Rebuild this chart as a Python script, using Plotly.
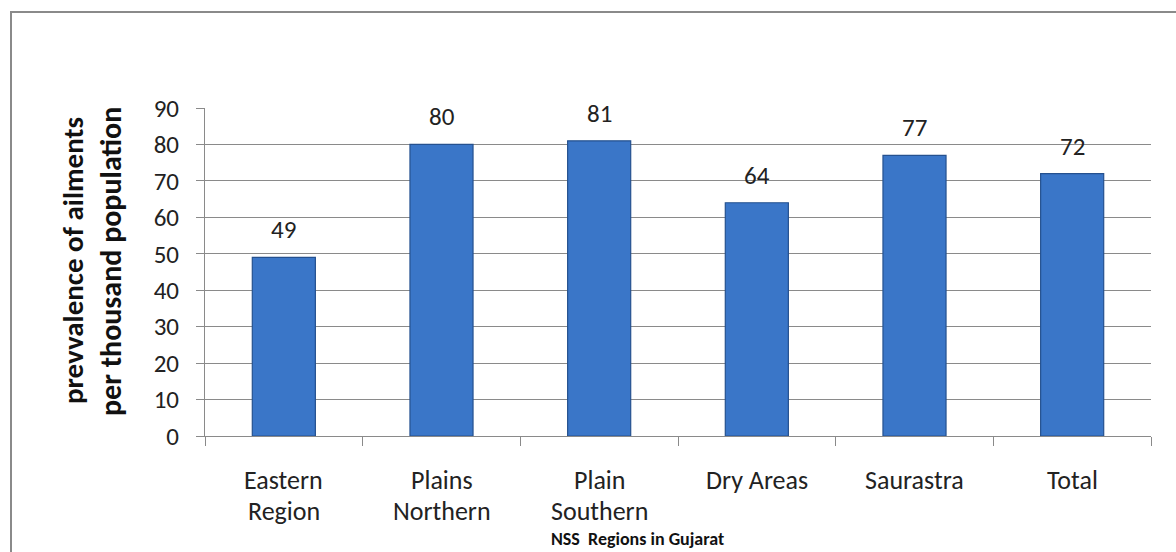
import plotly.graph_objects as go

categories = ["Eastern Region", "Plains Northern", "Plain Southern", "Dry Areas", "Saurastra", "Total"]
label_line1 = ["Eastern", "Plains", "Plain", "Dry Areas", "Saurastra", "Total"]
label_line2 = ["Region", "Northern", "Southern", "", "", ""]
values = [49, 80, 81, 64, 77, 72]
y_ticks = [0, 10, 20, 30, 40, 50, 60, 70, 80, 90]

W, H = 1176, 552
ML, MR, MT, MB = 205, 25, 108, 116
FONT = "Carlito, Lato, sans-serif"

fig = go.Figure()
fig.add_trace(go.Bar(
    x=categories, y=values, width=0.4,
    marker=dict(color="#3a76c8", line=dict(color="#25518f", width=1.2)),
    hoverinfo="x+y",
))

annotations = []
for c, v in zip(categories, values):
    annotations.append(dict(x=c, y=v, xref="x", yref="y", text=str(v), showarrow=False,
                            yanchor="bottom", yshift=10, font=dict(family=FONT, size=25, color="#222")))
for c, l1, l2 in zip(categories, label_line1, label_line2):
    annotations.append(dict(x=c, y=0, xref="x", yref="paper", text=l1, showarrow=False,
                            yanchor="top", yshift=-26, font=dict(family=FONT, size=26, color="#222")))
    if l2:
        annotations.append(dict(x=c, y=0, xref="x", yref="paper", text=l2, showarrow=False,
                                yanchor="top", yshift=-58, borderpad=0,
                                font=dict(family=FONT, size=26, color="#222")))

pw = W - ML - MR
ph = H - MT - MB
def px_x(p):
    return (p - ML) / pw
def px_y(p):
    return (H - MB - p) / ph

annotations.append(dict(x=px_x(637), y=px_y(551), xref="paper", yref="paper",
                        text="<b>NSS  Regions in Gujarat</b>", showarrow=False, borderpad=0,
                        xanchor="center", yanchor="bottom", font=dict(family=FONT, size=18, color="#111")))
annotations.append(dict(x=px_x(73), y=px_y(261), xref="paper", yref="paper",
                        text="<b>prevvalence of ailments</b>", showarrow=False, textangle=-90,
                        xanchor="center", yanchor="middle", font=dict(family=FONT, size=29, color="#111")))
annotations.append(dict(x=px_x(110), y=px_y(262), xref="paper", yref="paper",
                        text="<b>per thousand population</b>", showarrow=False, textangle=-90,
                        xanchor="center", yanchor="middle", font=dict(family=FONT, size=30, color="#111")))

fig.update_layout(
    width=W, height=H,
    margin=dict(l=ML, r=MR, t=MT, b=MB),
    paper_bgcolor="white", plot_bgcolor="white",
    showlegend=False,
    annotations=annotations,
    shapes=[dict(type="rect", xref="paper", yref="paper",
                 x0=px_x(11), x1=px_x(1185), y0=px_y(565), y1=px_y(12),
                 line=dict(color="#8a8a8a", width=2), fillcolor="rgba(0,0,0,0)", layer="below")],
    xaxis=dict(showticklabels=False, ticks="outside", tickson="boundaries", ticklen=9,
               tickcolor="#8a8a8a", showline=True, linecolor="#8a8a8a", linewidth=1,
               showgrid=False),
    yaxis=dict(range=[0, 90], tickvals=y_ticks, ticks="outside", ticklen=8, tickcolor="#8a8a8a",
               showline=True, linecolor="#8a8a8a", linewidth=1, showgrid=True, gridcolor="#8a8a8a",
               gridwidth=1, zeroline=False, ticklabelstandoff=12,
               tickfont=dict(family=FONT, size=25, color="#222")),
)

fig.write_html("out.html")
